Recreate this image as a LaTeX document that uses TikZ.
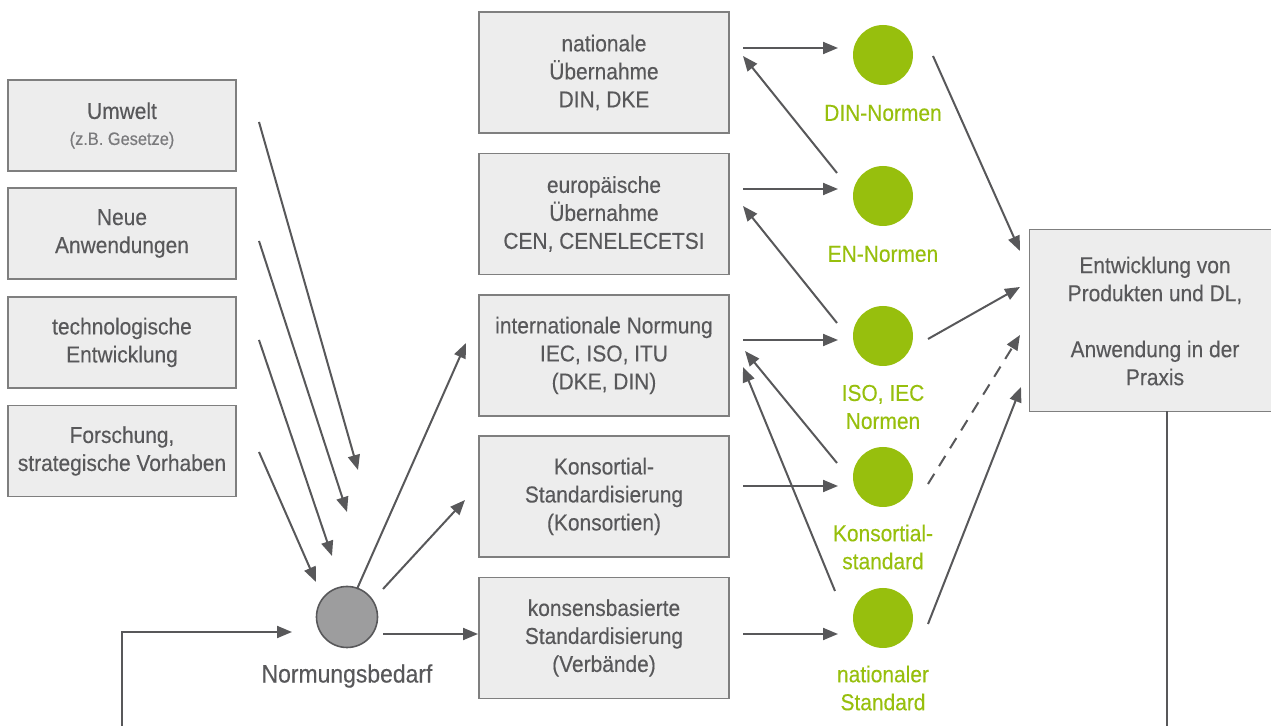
\documentclass[tikz,border=0pt]{standalone}
\usepackage{fontspec}
\setmainfont{Liberation Sans}[FakeStretch=0.91,FakeBold=0.3]
\usetikzlibrary{arrows.meta}
\definecolor{txt}{HTML}{58585A}
\definecolor{lighttxt}{HTML}{7A7A7C}
\definecolor{boxfill}{HTML}{EDEDED}
\definecolor{boxline}{HTML}{7F7F7F}
\definecolor{grn}{HTML}{97BF0D}
\definecolor{grycirc}{HTML}{9D9D9E}
\definecolor{arr}{HTML}{58585A}
\begin{document}
\begin{tikzpicture}[x=0.5pt,y=-0.5pt,
  every node/.style={text=txt, font=\fontsize{11.5}{14}\selectfont},
  leftbox/.style={draw=boxline, fill=boxfill, line width=0.8pt, align=center, inner sep=0pt, minimum width=114pt, minimum height=45.5pt},
  midbox/.style={draw=boxline, fill=boxfill, line width=0.8pt, align=center, inner sep=0pt, minimum width=125pt, minimum height=60.5pt},
  gdot/.style={circle, fill=grn, inner sep=0pt, minimum size=30pt},
  glabel/.style={text=grn, align=center, inner sep=0pt},
  conn/.style={draw=arr, line width=1pt, -{Triangle[length=7.5pt,width=6pt]}},
  plain/.style={draw=arr, line width=1pt},
  dashconn/.style={conn, dash pattern=on 6pt off 4.5pt}]
\useasboundingbox (0,0) rectangle (1271,726);

% left boxes
\node[leftbox] (um) at (122,125.5) {Umwelt\\[-1pt]{\fontsize{9}{12}\selectfont\color{lighttxt}(z.B. Gesetze)}};
\node[leftbox] (na) at (122,233.5) {Neue\\Anwendungen};
\node[leftbox] (te) at (122,342.5) {technologische\\Entwicklung};
\node[leftbox] (fo) at (122,451) {Forschung,\\strategische Vorhaben};

% middle boxes
\node[midbox] (b1) at (604,72.5) {nationale\\Übernahme\\DIN, DKE};
\node[midbox] (b2) at (604,214) {europäische\\Übernahme\\CEN, CENELECETSI};
\node[midbox] (b3) at (604,355.5) {internationale Normung\\IEC, ISO, ITU\\(DKE, DIN)};
\node[midbox] (b4) at (604,496.5) {Konsortial-\\Standardisierung\\(Konsortien)};
\node[midbox] (b5) at (604,638) {konsensbasierte\\Standardisierung\\(Verbände)};

% gray circle
\node[circle, fill=grycirc, draw=txt, line width=0.8pt, inner sep=0pt, minimum size=30.5pt] (nb) at (347,617) {};
\node[inner sep=0pt, font=\fontsize{12.6}{15}\selectfont] (nbl) at (347,676) {Normungsbedarf};

% green circles
\node[gdot] (c1) at (883,55) {};
\node[gdot] (c2) at (883,196) {};
\node[gdot] (c3) at (883,336) {};
\node[gdot] (c4) at (883,477) {};
\node[gdot] (c5) at (883,618) {};
\node[glabel] (l1) at (883,113) {DIN-Normen};
\node[glabel] (l2) at (883,254) {EN-Normen};
\node[glabel] (l3) at (883,407) {ISO, IEC\\Normen};
\node[glabel] (l4) at (883,547) {Konsortial-\\standard};
\node[glabel] (l5) at (883,688) {nationaler\\Standard};

% right box
\node[fill=boxfill, inner sep=0pt, minimum width=125pt, minimum height=90.5pt] (rb) at (1155,320.5) {};
\draw[boxline, line width=0.8pt] (rb.north east) -- (rb.north west) -- (rb.south west) -- (rb.south east);
\node[align=center, inner sep=0pt] (rbt) at (1155,321) {Entwicklung von\\Produkten und DL,\\~\\Anwendung in der\\Praxis};

% coordinates for arrow ends
\coordinate (u1) at (259,122);  \coordinate (u2) at (358,470);
\coordinate (n1) at (259,241);  \coordinate (n2) at (347,512);
\coordinate (t1) at (259,340);  \coordinate (t2) at (332,556);
\coordinate (f1) at (259,452);  \coordinate (f2) at (316,582);

\coordinate (g1) at (357,589);  \coordinate (g2) at (466,343);
\coordinate (g3) at (383,589);  \coordinate (g4) at (465,500);
\coordinate (g5) at (383,634);  \coordinate (g6) at (478,634);

\coordinate (h1a) at (743,48);  \coordinate (h1b) at (838,48);
\coordinate (h2a) at (743,189); \coordinate (h2b) at (838,189);
\coordinate (h3a) at (743,340); \coordinate (h3b) at (838,340);
\coordinate (h4a) at (743,486); \coordinate (h4b) at (838,486);
\coordinate (h5a) at (743,634); \coordinate (h5b) at (838,634);

\coordinate (r1a) at (837,173); \coordinate (r1b) at (743,56);
\coordinate (r2a) at (837,323); \coordinate (r2b) at (743,206);
\coordinate (r3a) at (837,463); \coordinate (r3b) at (745,351);
\coordinate (r4a) at (835,591); \coordinate (r4b) at (743,367);

\coordinate (p1a) at (933,56);  \coordinate (p1b) at (1020,251);
\coordinate (p2a) at (928,339); \coordinate (p2b) at (1020,287);
\coordinate (p3a) at (928,484); \coordinate (p3b) at (1020,335);
\coordinate (p4a) at (928,624); \coordinate (p4b) at (1021,387);

\coordinate (fbR) at (1167,726);
\coordinate (fbL) at (122,726);
\coordinate (fbT) at (292,632);

% arrows
\draw[conn] (u1) -- (u2);
\draw[conn] (n1) -- (n2);
\draw[conn] (t1) -- (t2);
\draw[conn] (f1) -- (f2);

\draw[conn] (g1) -- (g2);
\draw[conn] (g3) -- (g4);
\draw[conn] (g5) -- (g6);

\draw[conn] (h1a) -- (h1b);
\draw[conn] (h2a) -- (h2b);
\draw[conn] (h3a) -- (h3b);
\draw[conn] (h4a) -- (h4b);
\draw[conn] (h5a) -- (h5b);

\draw[conn] (r1a) -- (r1b);
\draw[conn] (r2a) -- (r2b);
\draw[conn] (r3a) -- (r3b);
\draw[conn] (r4a) -- (r4b);

\draw[conn] (p1a) -- (p1b);
\draw[conn] (p2a) -- (p2b);
\draw[dashconn] (p3a) -- (p3b);
\draw[conn] (p4a) -- (p4b);

\draw[plain] (rb.south -| fbR) -- (fbR);
\draw[conn] (fbL) |- (fbT);
\end{tikzpicture}
\end{document}
